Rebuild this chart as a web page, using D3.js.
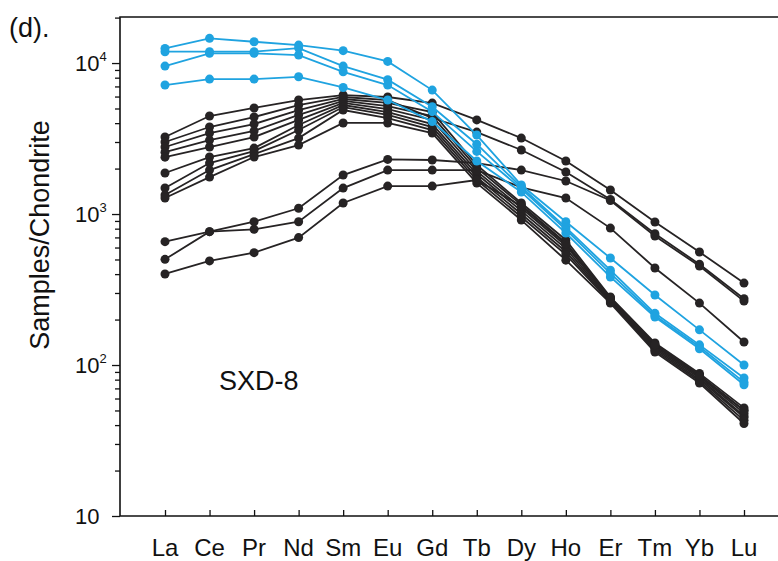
<!DOCTYPE html>
<html>
<head>
<meta charset="utf-8">
<script src="https://cdn.jsdelivr.net/npm/d3@7"></script>
<style>
  html, body { margin: 0; padding: 0; background: #fff; }
  svg { display: block; font-family: "Liberation Sans", Arial, Helvetica, sans-serif; }
</style>
</head>
<body>
<svg id="chart" width="778" height="561"></svg>
<script>
// ---- data ----
const elements = ["La","Ce","Pr","Nd","Sm","Eu","Gd","Tb","Dy","Ho","Er","Tm","Yb","Lu"];
const yTickValues = [10, 100, 1000, 10000];
const yTickExponents = ["", "2", "3", "4"];

// black samples
const black1  = [3240, 4460, 5040, 5690, 6140, 5960, 5430, 4200, 3185, 2245, 1442, 885, 560, 349];
const black2  = [3000, 3770, 4390, 5270, 5960, 5690, 4325, 3490, 2655, 1897, 1250, 740, 465, 275];
const black3  = [2780, 3440, 3945, 4885, 5780, 5440, 4730, 2113, 1183, 673, 282, 140, 88, 52];
const black4  = [2570, 3090, 3548, 4530, 5610, 5190, 4455, 2020, 1150, 645, 278, 137, 86, 50];
const black5  = [2380, 2778, 3236, 4200, 5440, 4960, 4200, 1925, 1097, 617, 274, 134, 84, 48];
const black6  = [1870, 2385, 2735, 3885, 5270, 4730, 3945, 1840, 1050, 590, 269, 131, 82, 46];
const black7  = [1487, 2175, 2612, 3600, 5110, 4530, 3766, 1757, 1000, 563, 265, 128, 80, 45];
const black8  = [1336, 1955, 2495, 3185, 4885, 4325, 3600, 1679, 955, 539, 261, 125, 78, 43];
const black9  = [1276, 1757, 2385, 2863, 4010, 4010, 3437, 1603, 912, 495, 257, 122, 76, 41];
const black10 = [656, 764, 792, 889, 1486, 1955, 1955, 1955, 1500, 1277, 807, 439, 257, 142];
const black11 = [501, 764, 889, 1092, 1812, 2301, 2280, 2175, 1955, 1655, 1230, 715, 452, 265];
const black12 = [401, 489, 555, 698, 1183, 1532, 1532, 1679, 1130, 635, 276, 136, 85, 50];

// blue samples
const blue1 = [12500, 14580, 13840, 13150, 12080, 10250, 6620, 3335, 1556, 889, 511, 291, 171, 100];
const blue2 = [11890, 11890, 11890, 12560, 9550, 7760, 5140, 2900, 1510, 815, 425, 220, 136, 82];
const blue3 = [9550, 11590, 11590, 11300, 8750, 7150, 4765, 2600, 1470, 790, 405, 213, 132, 77];
const blue4 = [7150, 7830, 7830, 8110, 6890, 5690, 4095, 2245, 1397, 748, 383, 208, 128, 74];

const blackSeries = [black1, black2, black3, black4, black5, black6, black7, black8, black9, black10, black11, black12];
const blueSeries = [blue1, blue2, blue3, blue4];

// ---- layout ----
const svg = d3.select("#chart");
const L = 120, R = 778, T = 17, B = 516;
const BLACK = "#262324", BLUE = "#1fa3e0";

const x = d3.scalePoint().domain(elements).range([165, 744]);
const y = d3.scaleLog().domain([10, Math.pow(10, 4.305)]).range([B, T]);

// frame
svg.append("path")
  .attr("d", `M${R},${T}H${L}V${B}H${R}`)
  .attr("fill", "none").attr("stroke", "#111").attr("stroke-width", 1.6);

// y axis ticks (outward) including minor
const yAxis = d3.axisLeft(y)
  .tickValues(d3.range(1, 4).flatMap(e => d3.range(1, 10).map(m => m * Math.pow(10, e))).concat([10000, 20000]).filter(v => v <= y.domain()[1]))
  .tickSize(5).tickFormat("");
const yg = svg.append("g").attr("transform", `translate(${L},0)`).call(yAxis);
yg.select(".domain").remove();
yg.selectAll(".tick line")
  .attr("stroke", "#111").attr("stroke-width", 1.3)
  .attr("x2", d => (yTickValues.includes(d) ? -8 : -5));

// y tick labels with superscripts
yTickValues.forEach((v, i) => {
  const t = svg.append("text")
    .attr("x", 75).attr("y", y(v) + 8)
    .attr("font-size", 22).attr("fill", "#111")
    .text("10");
  if (yTickExponents[i]) {
    t.append("tspan").attr("dy", -10).attr("font-size", 13).text(yTickExponents[i]);
  }
});

// x axis ticks (inward)
const xAxis = d3.axisBottom(x).tickSize(-6).tickFormat("").tickSizeOuter(0);
const xg = svg.append("g").attr("transform", `translate(0,${B})`).call(xAxis);
xg.select(".domain").remove();
xg.selectAll(".tick line").attr("stroke", "#111").attr("stroke-width", 1.3);

// x labels
svg.append("g").selectAll("text").data(elements).join("text")
  .attr("x", d => x(d)).attr("y", 556)
  .attr("text-anchor", "middle").attr("font-size", 24).attr("fill", "#111")
  .text(d => d);

// lines + dots
const line = d3.line().x((d, i) => x(elements[i])).y(d => y(d));
function drawSeries(list, color) {
  const g = svg.append("g");
  list.forEach(s => {
    g.append("path").attr("d", line(s)).attr("fill", "none")
      .attr("stroke", color).attr("stroke-width", 1.8);
  });
  list.forEach(s => {
    g.selectAll(null).data(s).join("circle")
      .attr("cx", (d, i) => x(elements[i])).attr("cy", d => y(d))
      .attr("r", 4.5).attr("fill", color);
  });
}
drawSeries(blackSeries, BLACK);
drawSeries(blueSeries, BLUE);

// texts
svg.append("text").attr("x", 9).attr("y", 37).attr("font-size", 27).attr("fill", "#111").text("(d).");
svg.append("text").attr("x", 219).attr("y", 390).attr("font-size", 27).attr("fill", "#111").text("SXD-8");
svg.append("text")
  .attr("transform", "translate(49,235) rotate(-90)")
  .attr("text-anchor", "middle").attr("font-size", 27).attr("fill", "#111")
  .text("Samples/Chondrite");
</script>
</body>
</html>
